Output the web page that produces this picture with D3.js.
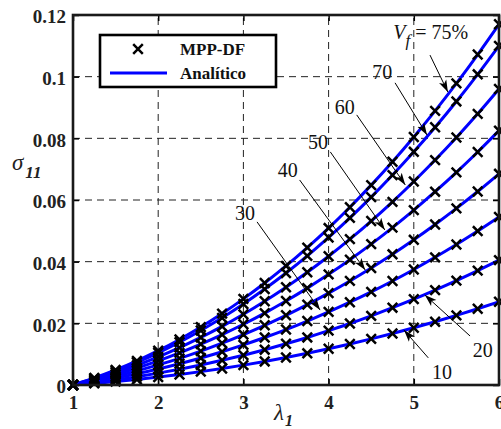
<!DOCTYPE html>
<html>
<head>
<meta charset="utf-8">
<script src="https://cdn.jsdelivr.net/npm/d3@7"></script>
<style>
  body { margin: 0; background: #fff; }
  svg { display: block; }
  text { font-family: "Liberation Serif", "Times New Roman", serif; }
</style>
</head>
<body>
<svg id="chart"></svg>
<script>
// stretch values (x axis)
var lambdas = [1, 1.25, 1.5, 1.75, 2, 2.25, 2.5, 2.75, 3, 3.25, 3.5, 3.75, 4, 4.25, 4.5, 4.75, 5, 5.25, 5.5, 5.75, 6];

// sigma_11 for each fibre volume fraction
var vf75 = [0, 0.00227, 0.00487, 0.00782, 0.01112, 0.01477, 0.01879, 0.02317, 0.02794, 0.03309, 0.03862, 0.04455, 0.05090, 0.05765, 0.06482, 0.07241, 0.08044, 0.08891, 0.09781, 0.10718, 0.1170];
var vf70 = [0, 0.00213, 0.00458, 0.00735, 0.01045, 0.01388, 0.01767, 0.02178, 0.02627, 0.03111, 0.03631, 0.04189, 0.04785, 0.05420, 0.06094, 0.06808, 0.07563, 0.08359, 0.09196, 0.10077, 0.1100];
var vf60 = [0, 0.00186, 0.00399, 0.00641, 0.00912, 0.01212, 0.01542, 0.01901, 0.02292, 0.02715, 0.03169, 0.03656, 0.04176, 0.04730, 0.05318, 0.05941, 0.06600, 0.07295, 0.08026, 0.08795, 0.0960];
var vf50 = [0, 0.00160, 0.00343, 0.00551, 0.00784, 0.01041, 0.01325, 0.01634, 0.01970, 0.02333, 0.02723, 0.03142, 0.03589, 0.04065, 0.04570, 0.05106, 0.05672, 0.06269, 0.06897, 0.07558, 0.0825];
var vf40 = [0, 0.00133, 0.00285, 0.00458, 0.00651, 0.00864, 0.01100, 0.01356, 0.01636, 0.01937, 0.02261, 0.02608, 0.02980, 0.03375, 0.03795, 0.04239, 0.04709, 0.05205, 0.05727, 0.06275, 0.0685];
var vf30 = [0, 0.00106, 0.00227, 0.00364, 0.00518, 0.00688, 0.00875, 0.01079, 0.01301, 0.01541, 0.01799, 0.02075, 0.02371, 0.02685, 0.03019, 0.03373, 0.03747, 0.04141, 0.04556, 0.04993, 0.0545];
var vf20 = [0, 0.00079, 0.00168, 0.00271, 0.00385, 0.00511, 0.00650, 0.00802, 0.00967, 0.01145, 0.01337, 0.01542, 0.01762, 0.01995, 0.02244, 0.02507, 0.02784, 0.03078, 0.03386, 0.03710, 0.0405];
var vf10 = [0, 0.00052, 0.00112, 0.00180, 0.00257, 0.00341, 0.00434, 0.00535, 0.00645, 0.00764, 0.00891, 0.01028, 0.01175, 0.01330, 0.01496, 0.01671, 0.01856, 0.02052, 0.02257, 0.02473, 0.0270];

var xTicks = [1, 2, 3, 4, 5, 6];
var yTicks = [0, 0.02, 0.04, 0.06, 0.08, 0.1, 0.12];
var yTickLabels = ["0", "0.02", "0.04", "0.06", "0.08", "0.1", "0.12"];

// curve labels: text anchor and arrow (from -> to) in data units
var notes = [
  { label: "70", tx: 4.63, ty: 0.1015, x1: 4.78, y1: 0.098,  x2: 5.155, y2: 0.0811 },
  { label: "60", tx: 4.19, ty: 0.0902, x1: 4.33, y1: 0.0876, x2: 4.90,  y2: 0.0649 },
  { label: "50", tx: 3.876, ty: 0.0788, x1: 4.02, y1: 0.0756, x2: 4.66, y2: 0.0503 },
  { label: "40", tx: 3.52, ty: 0.0697, x1: 3.66, y1: 0.0665, x2: 4.43,  y2: 0.0373 },
  { label: "30", tx: 3.02, ty: 0.0558, x1: 3.16, y1: 0.0529, x2: 3.90,  y2: 0.0243 },
  { label: "20", tx: 5.81, ty: 0.0114, x1: 5.66, y1: 0.0159, x2: 5.13,  y2: 0.0292 },
  { label: "10", tx: 5.33, ty: 0.0042, x1: 5.17, y1: 0.0088, x2: 4.885, y2: 0.0178 }
];
var topNote = { tx: 4.76, ty: 0.1122, x1: 5.19, y1: 0.107, x2: 5.40, y2: 0.095 };

var series = [vf75, vf70, vf60, vf50, vf40, vf30, vf20, vf10].map(function(vals) {
    return vals.map(function(v, i) { return { l: lambdas[i], s: v }; });
});

var width = 501, height = 429;
var svg = d3.select("#chart").attr("width", width).attr("height", height);

var x = d3.scaleLinear().domain([1, 6]).range([73, 499]);
var y = d3.scaleLinear().domain([0, 0.12]).range([385, 15]);

// dashed grid
var grid = svg.append("g").attr("stroke", "#222").attr("stroke-width", 1).attr("stroke-dasharray", "7,5");
grid.selectAll(".gx").data(xTicks.slice(1, -1)).enter().append("line")
    .attr("x1", function(d) { return x(d); }).attr("x2", function(d) { return x(d); })
    .attr("y1", y(0)).attr("y2", y(0.12));
grid.selectAll(".gy").data(yTicks.slice(1, -1)).enter().append("line")
    .attr("x1", x(1)).attr("x2", x(6))
    .attr("y1", function(d) { return y(d); }).attr("y2", function(d) { return y(d); });

// analytic curves
var line = d3.line()
    .x(function(d) { return x(d.l); })
    .y(function(d) { return y(d.s); })
    .curve(d3.curveMonotoneX);

svg.append("g").selectAll("path").data(series).enter().append("path")
    .attr("d", line)
    .attr("fill", "none")
    .attr("stroke", "#0000ff")
    .attr("stroke-width", 3);

// MPP-DF markers
var cross = "M-4.8,-4.8L4.8,4.8M-4.8,4.8L4.8,-4.8";
svg.append("g").selectAll("g").data(series).enter().append("g")
    .selectAll("path").data(function(d) { return d; }).enter().append("path")
    .attr("d", cross)
    .attr("transform", function(d) { return "translate(" + x(d.l) + "," + y(d.s) + ")"; })
    .attr("fill", "none")
    .attr("stroke", "#000")
    .attr("stroke-width", 2.5);

// axes
function styleAxis(g) {
    g.select(".domain").remove();
    g.selectAll(".tick line").attr("stroke", "#000").attr("stroke-width", 1.5);
    g.selectAll(".tick text")
        .attr("fill", "#222")
        .style("font-size", "19px")
        .style("font-weight", "bold")
        .style("font-family", '"Liberation Serif", "Times New Roman", serif');
}

svg.append("g").attr("transform", "translate(0," + y(0) + ")")
    .call(d3.axisBottom(x).tickValues(xTicks).tickSize(-6).tickPadding(11).tickFormat(d3.format("d")))
    .call(styleAxis);
svg.append("g").attr("transform", "translate(0," + y(0.12) + ")")
    .call(d3.axisTop(x).tickValues(xTicks).tickSize(-6).tickFormat(""))
    .call(styleAxis);
var yAx = svg.append("g").attr("transform", "translate(" + x(1) + ",0)")
    .call(d3.axisLeft(y).tickValues(yTicks).tickSize(-6).tickPadding(7)
        .tickFormat(function(d, i) { return yTickLabels[i]; }))
    .call(styleAxis);
yAx.selectAll(".tick text").attr("dy", "0.42em");
svg.append("g").attr("transform", "translate(" + x(6) + ",0)")
    .call(d3.axisRight(y).tickValues(yTicks).tickSize(-6).tickFormat(""))
    .call(styleAxis);

// frame
svg.append("rect")
    .attr("x", x(1)).attr("y", y(0.12))
    .attr("width", x(6) - x(1)).attr("height", y(0) - y(0.12))
    .attr("fill", "none").attr("stroke", "#1a1a1a").attr("stroke-width", 2.6);

// axis titles
var yl = svg.append("text").attr("x", 12).attr("y", 170).attr("fill", "#222");
yl.append("tspan").text("σ").style("font-style", "italic").style("font-size", "23px");
yl.append("tspan").text("11").attr("dx", 2).attr("dy", 8)
    .style("font-style", "italic").style("font-weight", "bold").style("font-size", "17px");

var xl = svg.append("text").attr("x", 274).attr("y", 420).attr("fill", "#222");
xl.append("tspan").text("λ").style("font-style", "italic").style("font-size", "23px");
xl.append("tspan").text("1").attr("dx", 1).attr("dy", 6)
    .style("font-style", "italic").style("font-weight", "bold").style("font-size", "16px");

// arrow head
svg.append("defs").append("marker")
    .attr("id", "head")
    .attr("markerUnits", "userSpaceOnUse")
    .attr("markerWidth", 13).attr("markerHeight", 10)
    .attr("refX", 12).attr("refY", 5)
    .attr("orient", "auto")
    .append("path")
    .attr("d", "M0,1 L12,5 L0,9 L3,5 Z")
    .attr("fill", "#000");

var arrows = notes.concat([topNote]);
svg.append("g").selectAll("line").data(arrows).enter().append("line")
    .attr("x1", function(d) { return x(d.x1); }).attr("y1", function(d) { return y(d.y1); })
    .attr("x2", function(d) { return x(d.x2); }).attr("y2", function(d) { return y(d.y2); })
    .attr("stroke", "#000").attr("stroke-width", 1)
    .attr("marker-end", "url(#head)");

svg.append("g").selectAll("text").data(notes).enter().append("text")
    .attr("x", function(d) { return x(d.tx); })
    .attr("y", function(d) { return y(d.ty); })
    .attr("dy", "0.35em")
    .attr("text-anchor", "middle")
    .attr("fill", "#111")
    .style("font-size", "20px")
    .text(function(d) { return d.label; });

var vt = svg.append("text").attr("x", x(topNote.tx)).attr("y", y(topNote.ty)).attr("fill", "#111")
    .style("font-size", "20px");
vt.append("tspan").text("V").style("font-style", "italic");
vt.append("tspan").text("f").attr("dy", 7).style("font-style", "italic").style("font-size", "17px");
vt.append("tspan").text(" = 75%").attr("dy", -7);

// legend
var lg = svg.append("g").attr("transform", "translate(100,35)");
lg.append("rect").attr("width", 176).attr("height", 52)
    .attr("fill", "#fff").attr("stroke", "#000").attr("stroke-width", 2.6);
lg.append("path").attr("d", cross).attr("transform", "translate(38,14)")
    .attr("stroke", "#000").attr("stroke-width", 2.5).attr("fill", "none");
lg.append("line").attr("x1", 10).attr("x2", 67).attr("y1", 38).attr("y2", 38)
    .attr("stroke", "#0000ff").attr("stroke-width", 3);
lg.append("text").attr("x", 80).attr("y", 20).text("MPP-DF")
    .style("font-size", "17px").style("font-weight", "bold").attr("fill", "#111");
lg.append("text").attr("x", 80).attr("y", 44).text("Analítico")
    .style("font-size", "17px").style("font-weight", "bold").attr("fill", "#111");
</script>
</body>
</html>
